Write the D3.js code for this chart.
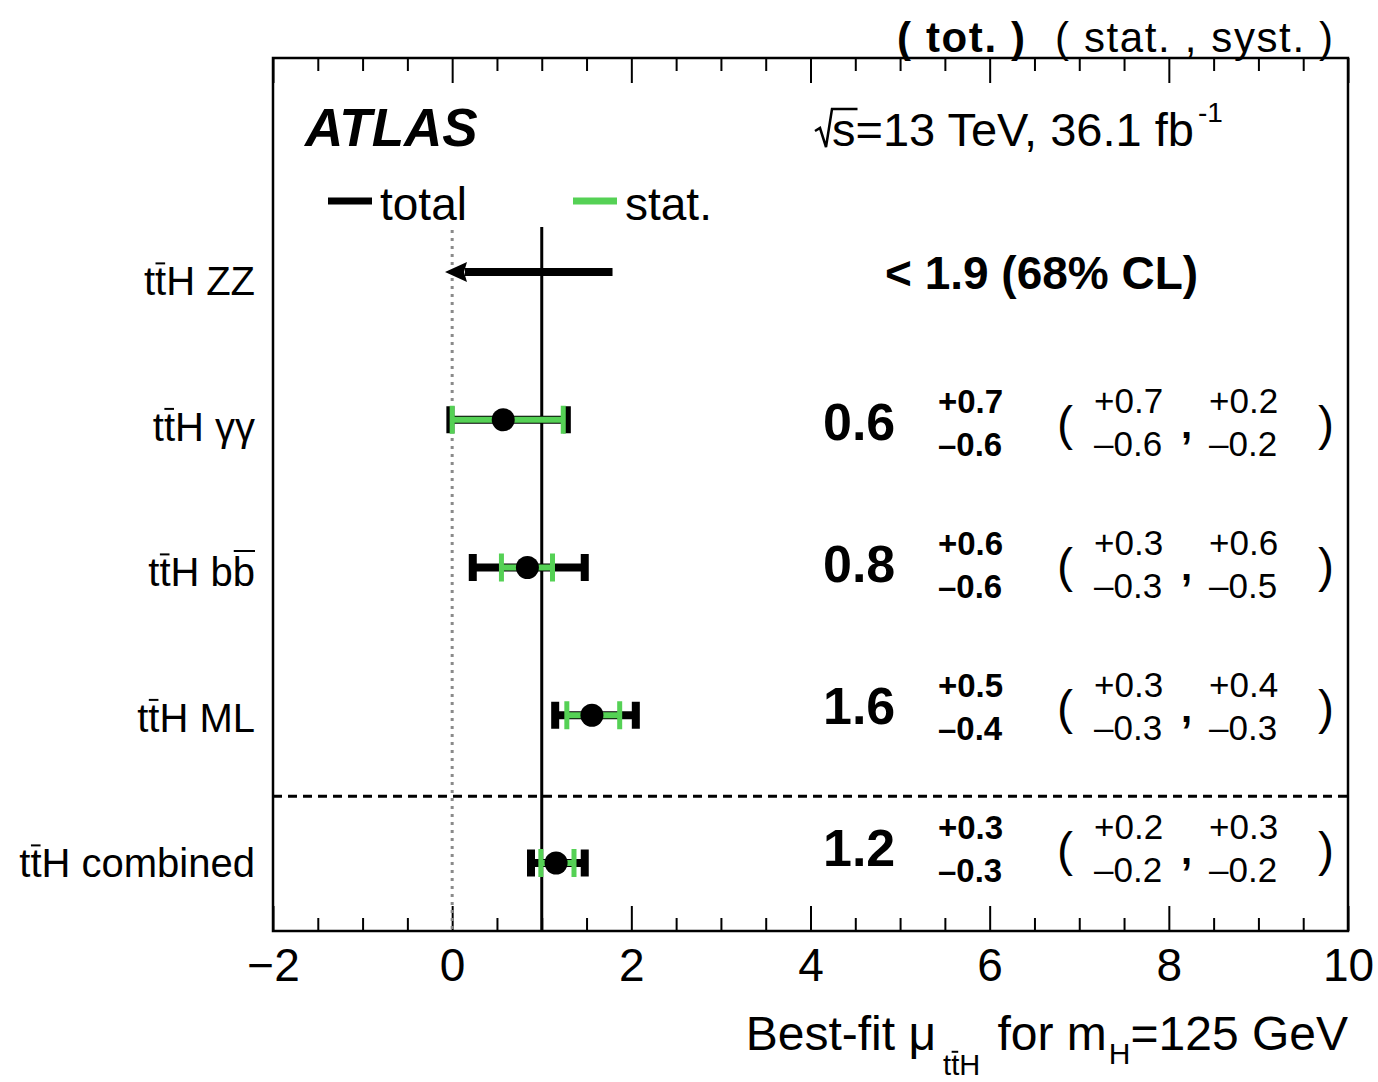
<!DOCTYPE html>
<html><head><meta charset="utf-8">
<script src="https://cdn.jsdelivr.net/npm/d3@7"></script>
<style>
body{margin:0;background:#fff}
text{font-family:"Liberation Sans",Arial,Helvetica,sans-serif;fill:#000}
</style>
</head><body>
<svg id="c" width="1378" height="1082"></svg>
<script>
// ---- data ----
const channels   = ["ZZ","γγ","bb","ML","combined"];
const rowLabels  = ["ttH ZZ","ttH γγ","ttH bb","ttH ML","ttH combined"];
const labelBars  = [[1],[1],[1,5],[1],[1]];   // characters carrying an overline (t̄, b̄)
const muBest     = [null, 0.57, 0.84, 1.56, 1.16];
const totLow     = [null,-0.02, 0.23, 1.15, 0.88];
const totHigh    = [null, 1.28, 1.48, 2.05, 1.48];
const statLow    = [null, 0.00, 0.55, 1.28, 0.99];
const statHigh   = [null, 1.24, 1.12, 1.87, 1.36];
const zzLimitFrom = 1.79, zzLimitTo = -0.08;
const zzLimitText = "< 1.9 (68% CL)";
const muText     = ["","0.6","0.8","1.6","1.2"];
const totUpText  = ["","+0.7","+0.6","+0.5","+0.3"];
const totDnText  = ["","–0.6","–0.6","–0.4","–0.3"];
const statUpText = ["","+0.7","+0.3","+0.3","+0.2"];
const statDnText = ["","–0.6","–0.3","–0.3","–0.2"];
const systUpText = ["","+0.2","+0.6","+0.4","+0.3"];
const systDnText = ["","–0.2","–0.5","–0.3","–0.2"];
const xMajorTicks = [-2,0,2,4,6,8,10];
const xDomain = [-2,10];
const smVal = 1, zeroVal = 0;

// ---- layout ----
const plotL=273, plotR=1348, plotT=58, plotB=931;
const GREEN="#55d155";
const svg=d3.select("#c");
const x=d3.scaleLinear().domain(xDomain).range([plotL,plotR]);
const yRow=d3.scaleLinear().domain([0,4]).range([272,863]);
const yLabel=d3.scaleLinear().domain([0,4]).range([295,877]);
const yText=d3.scaleLinear().domain([1,4]).range([440,866]);
const xMinorTicks=d3.range(xDomain[0],xDomain[1]+0.001,0.5).filter(v=>!xMajorTicks.includes(v));
const fmt=d=>d<0?"\u2212"+Math.abs(d):String(d);

// frame
svg.append("rect").attr("x",plotL).attr("y",plotT).attr("width",plotR-plotL).attr("height",plotB-plotT)
  .attr("fill","none").attr("stroke","#000").attr("stroke-width",2.5);

// axes
function styleAxis(g){g.select(".domain").remove();g.selectAll(".tick line").attr("stroke","#000").attr("stroke-width",2);}
const bMaj=svg.append("g").attr("transform",`translate(0,${plotB})`)
  .call(d3.axisBottom(x).tickValues(xMajorTicks).tickSizeInner(-25).tickSizeOuter(0).tickPadding(17).tickFormat(fmt));
styleAxis(bMaj);
bMaj.selectAll(".tick text").attr("font-size",46).attr("font-family","Liberation Sans, Arial, sans-serif").attr("fill","#000");
const bMin=svg.append("g").attr("transform",`translate(0,${plotB})`)
  .call(d3.axisBottom(x).tickValues(xMinorTicks).tickSizeInner(-13).tickSizeOuter(0).tickFormat(""));
styleAxis(bMin);
const tMaj=svg.append("g").attr("transform",`translate(0,${plotT})`)
  .call(d3.axisTop(x).tickValues(xMajorTicks).tickSizeInner(-25).tickSizeOuter(0).tickFormat(""));
styleAxis(tMaj);
const tMin=svg.append("g").attr("transform",`translate(0,${plotT})`)
  .call(d3.axisTop(x).tickValues(xMinorTicks).tickSizeInner(-13).tickSizeOuter(0).tickFormat(""));
styleAxis(tMin);

// reference lines
svg.append("line").attr("x1",x(zeroVal)).attr("x2",x(zeroVal)).attr("y1",230).attr("y2",plotB)
  .attr("stroke","#8a8a8a").attr("stroke-width",3).attr("stroke-dasharray","3 5");
svg.append("line").attr("x1",x(smVal)).attr("x2",x(smVal)).attr("y1",227).attr("y2",plotB)
  .attr("stroke","#000").attr("stroke-width",3);
// separator
const sepY=(yRow(3)+yRow(4))/2+7;
svg.append("line").attr("x1",plotL).attr("x2",plotR).attr("y1",sepY).attr("y2",sepY)
  .attr("stroke","#000").attr("stroke-width",3).attr("stroke-dasharray","9 6");

// ZZ limit arrow
{
  const y=yRow(0), tip=x(zzLimitTo), base=tip+22;
  svg.append("line").attr("x1",x(zzLimitFrom)).attr("x2",base-2).attr("y1",y).attr("y2",y)
    .attr("stroke","#000").attr("stroke-width",8);
  svg.append("path").attr("d",`M${tip},${y} L${base},${y-10} L${base-3},${y} L${base},${y+10} Z`).attr("fill","#000");
}

// error bars
const rows=d3.range(1,5);
const eg=svg.append("g");
rows.forEach(i=>{
  const y=yRow(i);
  eg.append("line").attr("x1",x(totLow[i])).attr("x2",x(totHigh[i])).attr("y1",y).attr("y2",y).attr("stroke","#000").attr("stroke-width",8);
  [totLow[i],totHigh[i]].forEach(v=>eg.append("rect").attr("x",x(v)-4).attr("y",y-13.5).attr("width",8).attr("height",27).attr("fill","#000"));
  eg.append("line").attr("x1",x(statLow[i])).attr("x2",x(statHigh[i])).attr("y1",y).attr("y2",y).attr("stroke",GREEN).attr("stroke-width",6);
  [statLow[i],statHigh[i]].forEach(v=>eg.append("rect").attr("x",x(v)-2.5).attr("y",y-14).attr("width",5).attr("height",28).attr("fill",GREEN));
  eg.append("circle").attr("cx",x(muBest[i])).attr("cy",y).attr("r",11.5).attr("fill","#000");
});

// row labels with overlines
rowLabels.forEach((lab,i)=>{
  const fs=40, yb=yLabel(i);
  const t=svg.append("text").attr("x",255).attr("y",yb).attr("text-anchor","end").attr("font-size",fs).text(lab);
  const node=t.node();
  labelBars[i].forEach(ci=>{
    const e=node.getExtentOfChar(ci);
    const isB=lab[ci]==="b";
    const by=yb-fs*(isB?0.875:0.79);
    svg.append("line").attr("x1",e.x+(isB?1:0.5)).attr("x2",e.x+e.width-(isB?0:1)).attr("y1",by).attr("y2",by)
      .attr("stroke","#000").attr("stroke-width",2);
  });
});

// right-hand numbers
svg.append("text").attr("x",885).attr("y",yRow(0)+17).attr("font-size",46).attr("font-weight","bold").text(zzLimitText);
rows.forEach(i=>{
  const yb=yText(i);
  svg.append("text").attr("x",823).attr("y",yb).attr("font-size",52).attr("font-weight","bold").text(muText[i]);
  svg.append("text").attr("x",938).attr("y",yb-27).attr("font-size",33).attr("font-weight","bold").text(totUpText[i]);
  svg.append("text").attr("x",938).attr("y",yb+16).attr("font-size",33).attr("font-weight","bold").text(totDnText[i]);
  svg.append("text").attr("x",1057).attr("y",yb).attr("font-size",48).text("(");
  svg.append("text").attr("x",1094).attr("y",yb-27).attr("font-size",35).text(statUpText[i]);
  svg.append("text").attr("x",1094).attr("y",yb+16).attr("font-size",35).text(statDnText[i]);
  svg.append("text").attr("x",1181).attr("y",yb-2).attr("font-size",40).attr("font-weight","bold").text(",");
  svg.append("text").attr("x",1209).attr("y",yb-27).attr("font-size",35).text(systUpText[i]);
  svg.append("text").attr("x",1209).attr("y",yb+16).attr("font-size",35).text(systDnText[i]);
  svg.append("text").attr("x",1318).attr("y",yb).attr("font-size",48).text(")");
});

// header
svg.append("text").attr("x",897).attr("y",52).attr("font-size",42).attr("font-weight","bold")
  .attr("textLength",128).attr("lengthAdjust","spacing").text("( tot. )");
svg.append("text").attr("x",1055).attr("y",52).attr("font-size",42)
  .attr("textLength",278).attr("lengthAdjust","spacing").text("( stat. , syst. )");

// ATLAS
svg.append("text").attr("x",305).attr("y",146).attr("font-size",53).attr("font-weight","bold").attr("font-style","italic").text("ATLAS");

// energy / lumi
{
  const t=svg.append("text").attr("x",832).attr("y",146).attr("font-size",47);
  t.append("tspan").text("s=13 TeV, 36.1 fb");
  t.append("tspan").attr("font-size",28).attr("dy",-24).attr("dx",4).text("-1");
  const e=t.node().getExtentOfChar(0);
  svg.append("path").attr("d",`M${e.x-17},${131} L${e.x-12},${128} L${e.x-6},${147} L${e.x},${109} L${e.x+e.width+2},${109}`)
    .attr("fill","none").attr("stroke","#000").attr("stroke-width",2.5);
}

// legend
svg.append("line").attr("x1",328).attr("x2",372).attr("y1",201).attr("y2",201).attr("stroke","#000").attr("stroke-width",7);
svg.append("text").attr("x",380).attr("y",220).attr("font-size",46).text("total");
svg.append("line").attr("x1",573).attr("x2",617).attr("y1",201).attr("y2",201).attr("stroke",GREEN).attr("stroke-width",7);
svg.append("text").attr("x",625).attr("y",220).attr("font-size",46).text("stat.");

// x-axis title
{
  const t=svg.append("text").attr("x",plotR).attr("y",1050).attr("text-anchor","end").attr("font-size",48);
  t.append("tspan").text("Best-fit μ");
  t.append("tspan").attr("font-size",29).attr("dy",25).attr("dx",7).text("ttH");
  t.append("tspan").attr("dy",-25).attr("dx",4).text(" for m");
  t.append("tspan").attr("font-size",30).attr("dy",14).attr("dx",2).text("H");
  t.append("tspan").attr("dy",-14).text("=125 GeV");
  const e=t.node().getExtentOfChar(11);
  const by=1075-29*0.8;
  svg.append("line").attr("x1",e.x+0.5).attr("x2",e.x+e.width-1).attr("y1",by).attr("y2",by).attr("stroke","#000").attr("stroke-width",2);
}
</script>
</body></html>
